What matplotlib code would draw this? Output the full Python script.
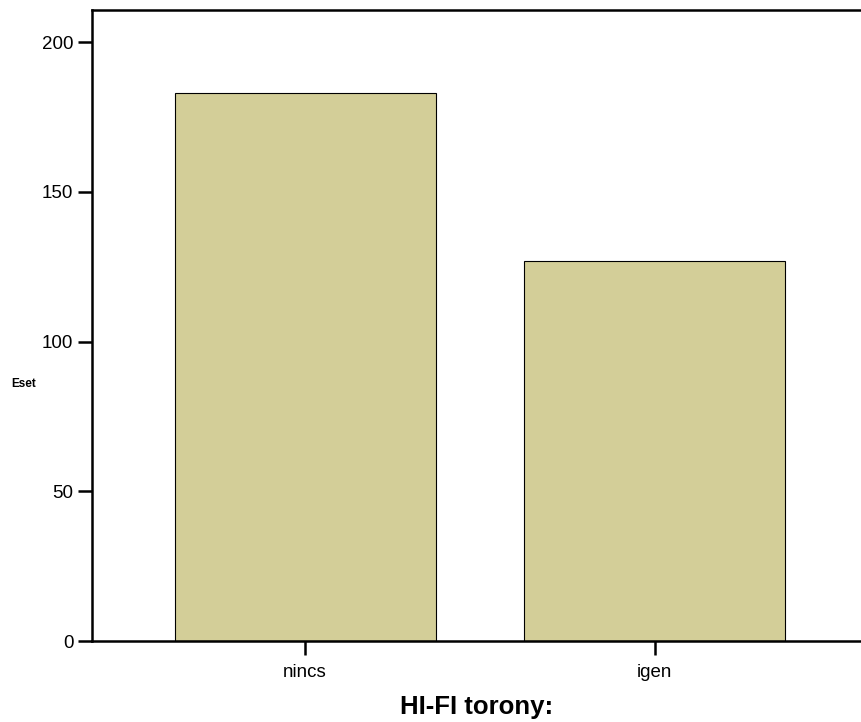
import matplotlib
matplotlib.use('Agg')
import matplotlib.pyplot as plt

categories = ['nincs', 'igen']
counts = [183, 127]
yticks = [0, 50, 100, 150, 200]

plt.rcParams['font.family'] = ['Liberation Sans', 'DejaVu Sans']

fig = plt.figure(figsize=(8.61, 7.22), dpi=100)
ax = fig.add_axes([92/861, 81/722, 1 - 92/861, 631/722])

x = range(len(categories))
ax.bar(x, counts, width=0.746, color='#d3ce98', edgecolor='black', linewidth=0.8)

ax.set_xlim(-0.609, 1.589)
ax.set_ylim(0, 210.7)
ax.set_xticks(list(x))
ax.set_xticklabels(categories, fontsize=13.5)
ax.set_yticks(yticks)
ax.set_yticklabels([str(v) for v in yticks], fontsize=13.5)
ax.tick_params(direction='out', length=10, width=1.8, pad=3.5)
ax.tick_params(axis='x', pad=6.5)

for s in ['left', 'bottom', 'top']:
    ax.spines[s].set_linewidth(1.8)
ax.spines['right'].set_visible(False)

ax.set_xlabel('HI-FI torony:', fontsize=18.5, fontweight='bold', labelpad=10)

# squashed y-axis title as it appears in the source
fig.text(24 / 861, 1 - 384 / 722, 'Eset', fontsize=8.5, fontweight='heavy',
         ha='center', va='center')

fig.savefig('out.png', dpi=100)
